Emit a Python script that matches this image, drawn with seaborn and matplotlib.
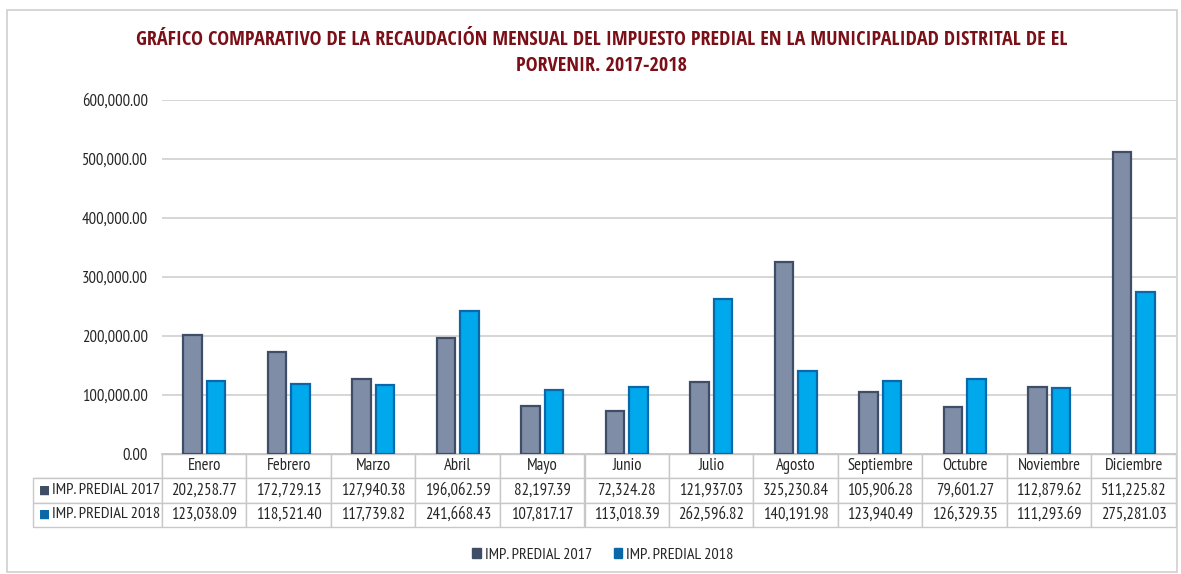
import numpy as np
import pandas as pd
import matplotlib.pyplot as plt
import seaborn as sns
from matplotlib.patches import Patch, Rectangle

months = ["Enero", "Febrero", "Marzo", "Abril", "Mayo", "Junio", "Julio",
          "Agosto", "Septiembre", "Octubre", "Noviembre", "Diciembre"]
predial_2017 = [202258.77, 172729.13, 127940.38, 196062.59, 82197.39, 72324.28,
                121937.03, 325230.84, 105906.28, 79601.27, 112879.62, 511225.82]
predial_2018 = [123038.09, 118521.40, 117739.82, 241668.43, 107817.17, 113018.39,
                262596.82, 140191.98, 123940.49, 126329.35, 111293.69, 275281.03]
series = ["IMP. PREDIAL 2017", "IMP. PREDIAL 2018"]
yticks = [0, 100000, 200000, 300000, 400000, 500000, 600000]

fill_colors = ["#7f8ea6", "#00a8ec"]
edge_colors = ["#3f4e66", "#0a68a8"]
title_color = "#7a0f17"
text_color = "#262626"

sns.set_theme(style="white")
plt.rcParams["font.family"] = ["PT Sans Narrow", "DejaVu Sans"]

df = pd.DataFrame({
    "mes": months * 2,
    "serie": [series[0]] * 12 + [series[1]] * 12,
    "valor": predial_2017 + predial_2018,
})

fig = plt.figure(figsize=(11.81, 5.74), dpi=100)
ax = fig.add_axes([162 / 1181, 1 - 454 / 574, 1014 / 1181, 354 / 574])

sns.barplot(data=df, x="mes", y="valor", hue="serie", order=months,
            hue_order=series, palette=fill_colors, saturation=1, width=0.55, gap=0.2,
            ax=ax, legend=False, zorder=3)

# edge colour per series
n = len(months)
for i, bar in enumerate(ax.patches[:2 * n]):
    bar.set_edgecolor(edge_colors[i // n])
    bar.set_linewidth(1.6)

ax.set_xlim(-0.5, n - 0.5)
ax.set_ylim(0, 600000)
ax.set_yticks(yticks)
ax.set_yticklabels([f"{v:,.2f}" for v in yticks], fontsize=12, color=text_color)
ax.tick_params(axis="y", length=0, pad=10)
ax.set_xticks([])
ax.set_xlabel("")
ax.set_ylabel("")
ax.yaxis.grid(True, color="#d0d0d0", linewidth=1.2, zorder=0)
ax.set_axisbelow(True)
for s in ["top", "right", "left"]:
    ax.spines[s].set_visible(False)
ax.spines["bottom"].set_color("#c8c8c8")

# data table under the chart
label_w = (162 - 33) / 1014
cell_text = [[""] + months,
             [""] + [f"{v:,.2f}" for v in predial_2017],
             [""] + [f"{v:,.2f}" for v in predial_2018]]
tab = ax.table(cellText=cell_text, cellLoc="center",
               colWidths=[label_w] + [1 / n] * n,
               bbox=[-label_w, -73 / 354, 1 + label_w, 73 / 354])
tab.auto_set_font_size(False)
tab.set_fontsize(12)
for (r, c), cell in tab.get_celld().items():
    cell.set_edgecolor("#c8c8c8")
    cell.set_linewidth(1.0)
    cell.get_text().set_color(text_color)
    if r == 0 and c == 0:
        cell.visible_edges = "BR"

for k, (name, col) in enumerate(zip(series, edge_colors)):
    y = (454 - (490 + 24 * k)) / 354
    ax.text((39 - 162) / 1014, y, "■", color=col, fontsize=8.5,
            family="DejaVu Sans", va="center", ha="left", transform=ax.transAxes)
    ax.text((52 - 162) / 1014, y, name, color=text_color, fontsize=11.8,
            va="center", ha="left", transform=ax.transAxes)

handles = [Patch(facecolor=edge_colors[i], edgecolor=edge_colors[i]) for i in range(2)]
fig.legend(handles, series, loc="center", bbox_to_anchor=(603 / 1181, 1 - 555 / 574),
           ncol=2, frameon=False, fontsize=11.7, handlelength=0.55, handleheight=0.55,
           handletextpad=0.25, columnspacing=1.3)

title_font = ["Open Sans Condensed", "DejaVu Sans"]
fig.text(602 / 1181, 1 - 40 / 574,
         "GRÁFICO COMPARATIVO DE LA RECAUDACIÓN MENSUAL DEL IMPUESTO PREDIAL EN LA MUNICIPALIDAD DISTRITAL DE EL",
         ha="center", va="center", fontsize=14.5, fontweight="bold", color=title_color,
         family=title_font)
fig.text(602 / 1181, 1 - 66 / 574, "PORVENIR. 2017-2018",
         ha="center", va="center", fontsize=14.5, fontweight="bold", color=title_color,
         family=title_font)

fig.patches.append(Rectangle((7 / 1181, 2 / 574), 1170 / 1181, 562 / 574,
                             transform=fig.transFigure, fill=False,
                             edgecolor="#d0d0d0", linewidth=1.2))

fig.savefig("out.png", dpi=100)
